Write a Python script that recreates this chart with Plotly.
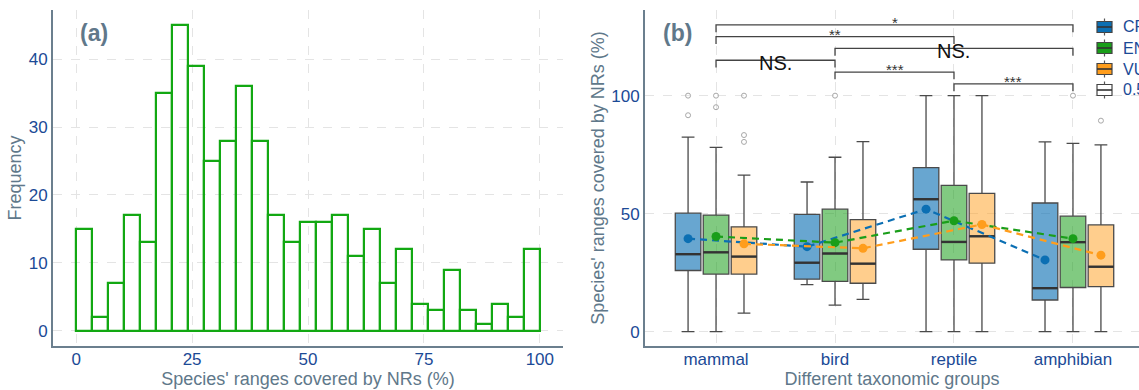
import numpy as np
import plotly.graph_objects as go

# ---------------- data: panel (a) ----------------
hist_counts = [15, 2, 7, 17, 13, 35, 45, 39, 25, 28, 36, 28, 17, 13, 16,
               16, 17, 11, 15, 7, 12, 4, 3, 9, 3, 1, 4, 2, 12]
hist_start, hist_end = 0, 100
a_xticks = [0, 25, 50, 75, 100]
a_yticks = [0, 10, 20, 30, 40]

# ---------------- data: panel (b) ----------------
groups = ["mammal", "bird", "reptile", "amphibian"]
levels = ["CR", "EN", "VU"]
q1 = {"CR": [25.9, 22.2, 34.9, 13.4], "EN": [24.4, 21.3, 30.4, 18.7], "VU": [24.4, 20.5, 29.0, 19.1]}
median = {"CR": [32.8, 29.2, 56.1, 18.4], "EN": [33.6, 33.1, 38.0, 37.9], "VU": [31.8, 28.8, 40.4, 27.5]}
q3 = {"CR": [50.2, 49.7, 69.5, 54.5], "EN": [49.4, 51.9, 62.0, 48.9], "VU": [44.4, 47.5, 58.6, 45.2]}
lower = {"CR": [0, 19.9, 0, 0], "EN": [0, 11.2, 0, 0], "VU": [7.8, 13.7, 0, 0]}
upper = {"CR": [82.4, 63.4, 100, 80.4], "EN": [78.1, 73.9, 100, 79.8], "VU": [66.3, 80.5, 100, 79.1]}
means = {"CR": [39.4, 36.0, 51.9, 30.4], "EN": [40.3, 37.7, 47.0, 39.4], "VU": [37.2, 35.3, 45.4, 32.4]}
outliers = {
    "CR": {"mammal": [100, 91.7]},
    "EN": {"mammal": [100, 95.1], "bird": [100], "amphibian": [100]},
    "VU": {"mammal": [100, 83.3, 80.4], "amphibian": [89.4]},
}
comparisons = [("mammal", "amphibian", "*", 130), ("mammal", "reptile", "**", 125),
               ("bird", "amphibian", "NS.", 120), ("mammal", "bird", "NS.", 115),
               ("bird", "reptile", "***", 110), ("reptile", "amphibian", "***", 105)]
b_yticks = [0, 50, 100]
legend_labels = ["CR", "EN", "VU", "0.5"]

# ---------------- styles ----------------
W, H = 1139, 390
dark = {"CR": "#0b6fb3", "EN": "#1a9e1a", "VU": "#ff9d1c"}
light = {"CR": "rgba(11,111,179,0.62)", "EN": "rgba(26,158,26,0.55)", "VU": "rgba(255,157,28,0.5)"}
TICKC = "#1b4a96"
TITLEC = "#60788a"
AXC = "#6b7f8e"
GRIDC = "#e4e4e4"
FONT = "Liberation Sans, Arial, sans-serif"
dodge = 0.235
boxw = 0.215

fig = go.Figure()

# panel (a) histogram
nb = len(hist_counts)
bw = (hist_end - hist_start) / nb
centers = [hist_start + bw * (i + 0.5) for i in range(nb)]
fig.add_trace(go.Bar(x=centers, y=hist_counts, width=bw, marker=dict(color="rgba(255,255,255,0)",
                     line=dict(color="#12a812", width=2.2)), xaxis="x", yaxis="y", showlegend=False))

# panel (b) boxes
gidx = {g: i + 1 for i, g in enumerate(groups)}
for k, lev in enumerate(levels):
    off = (k - 1) * dodge
    pos = [gidx[g] + off for g in groups]
    fig.add_trace(go.Box(x=pos, q1=q1[lev], median=median[lev], q3=q3[lev],
                         lowerfence=lower[lev], upperfence=upper[lev], width=boxw,
                         fillcolor=light[lev], line=dict(color="#4a4a4a", width=1.3),
                         boxpoints=False, xaxis="x2", yaxis="y2", showlegend=False, name=lev))
    # median (thicker, dark)
    mx, my = [], []
    for p, m in zip(pos, median[lev]):
        mx += [p - boxw / 2, p + boxw / 2, None]
        my += [m, m, None]
    fig.add_trace(go.Scatter(x=mx, y=my, mode="lines", line=dict(color="#333333", width=2.4),
                             xaxis="x2", yaxis="y2", showlegend=False, hoverinfo="skip"))
    # outliers
    ox, oy = [], []
    for g, vals in outliers[lev].items():
        for v in vals:
            ox.append(gidx[g] + off)
            oy.append(v)
    fig.add_trace(go.Scatter(x=ox, y=oy, mode="markers",
                             marker=dict(symbol="circle-open", size=5, color="#a8a8a8", line=dict(width=1)),
                             xaxis="x2", yaxis="y2", showlegend=False))

# mean lines and points
for k, lev in enumerate(levels):
    off = (k - 1) * dodge
    pos = [gidx[g] + off for g in groups]
    fig.add_trace(go.Scatter(x=pos, y=means[lev], mode="lines",
                             line=dict(color=dark[lev], width=2.2, dash="7px,5px"),
                             xaxis="x2", yaxis="y2", showlegend=False))
    fig.add_trace(go.Scatter(x=pos, y=means[lev], mode="markers",
                             marker=dict(color=dark[lev], size=9),
                             xaxis="x2", yaxis="y2", showlegend=False))

# significance brackets
tick_len = 3.1
for g1, g2, lab, yv in comparisons:
    x1, x2 = gidx[g1], gidx[g2]
    fig.add_trace(go.Scatter(x=[x1, x1, x2, x2], y=[yv - tick_len, yv, yv, yv - tick_len], mode="lines",
                             line=dict(color="#444444", width=1.3), xaxis="x2", yaxis="y2",
                             showlegend=False, hoverinfo="skip"))
    if lab.startswith("NS"):
        fig.add_annotation(x=(x1 + x2) / 2, y=yv, xref="x2", yref="y2", text=lab, showarrow=False,
                           yanchor="middle", yshift=-3, font=dict(size=20, color="#111111", family=FONT))
    else:
        fig.add_annotation(x=(x1 + x2) / 2, y=yv, xref="x2", yref="y2", text=lab, showarrow=False,
                           yanchor="bottom", yshift=-8, font=dict(size=15, color="#333333", family=FONT))

# ---------------- layout ----------------
def px(x):
    return x / W

def py(y):
    return (H - y) / H

ydom = [py(346), py(10)]
fig.update_layout(
    width=W, height=H, margin=dict(l=0, r=0, t=0, b=0),
    paper_bgcolor="white", plot_bgcolor="white", bargap=0,
    font=dict(family=FONT),
    xaxis=dict(domain=[px(53), px(563)], range=[-5, 105], tickvals=a_xticks, anchor="y",
               showline=True, linecolor=AXC, linewidth=2, showgrid=True, gridcolor=GRIDC,
               griddash="dash", gridwidth=1, zeroline=False, ticks="", ticklabelstandoff=-3,
               tickfont=dict(size=17, color=TICKC),
               title=dict(text="Species' ranges covered by NRs (%)", font=dict(size=18, color=TITLEC), standoff=0)),
    yaxis=dict(domain=ydom, range=[-2.25, 47.25], tickvals=a_yticks, anchor="x",
               showline=True, linecolor=AXC, linewidth=2, showgrid=True, gridcolor=GRIDC,
               griddash="dash", zeroline=False, ticks="",
               tickfont=dict(size=17, color=TICKC),
               title=dict(text="Frequency", font=dict(size=18, color=TITLEC), standoff=2)),
    xaxis2=dict(domain=[px(645), 1.0], range=[0.403, 4.555], tickvals=[1, 2, 3, 4], ticktext=groups,
                anchor="y2", showline=True, linecolor=AXC, linewidth=2, showgrid=True, gridcolor=GRIDC,
                griddash="dash", zeroline=False, ticks="", ticklabelstandoff=-3,
                tickfont=dict(size=17, color=TICKC),
                title=dict(text="Different taxonomic groups", font=dict(size=18, color=TITLEC), standoff=0)),
    yaxis2=dict(domain=ydom, range=[-6.1, 136.3], tickvals=b_yticks, anchor="x2",
                showline=True, linecolor=AXC, linewidth=2, showgrid=True, gridcolor=GRIDC,
                griddash="dash", zeroline=False, ticks="",
                tickfont=dict(size=17, color=TICKC),
                title=dict(text="Species' ranges covered by NRs (%)", font=dict(size=18, color=TITLEC), standoff=2)),
)

# panel tags
fig.add_annotation(x=px(78), y=py(33), xref="paper", yref="paper", text="<b>(a)</b>", showarrow=False,
                   xanchor="left", yanchor="middle", font=dict(size=23, color=TITLEC, family=FONT))
fig.add_annotation(x=px(661), y=py(33), xref="paper", yref="paper", text="<b>(b)</b>", showarrow=False,
                   xanchor="left", yanchor="middle", font=dict(size=23, color=TITLEC, family=FONT))

# manual legend (cut by the right edge like the original)
leg_fill = [dark["CR"], dark["EN"], dark["VU"], "white"]
for i, lab in enumerate(legend_labels):
    cy = 27 + i * 21
    x0, x1 = 1097, 1112
    xc = (x0 + x1) / 2
    fig.add_shape(type="rect", xref="paper", yref="paper", x0=px(x0), x1=px(x1), y0=py(cy + 5.5), y1=py(cy - 5.5),
                  fillcolor=leg_fill[i], line=dict(color="#444444", width=1.2))
    fig.add_shape(type="line", xref="paper", yref="paper", x0=px(x0), x1=px(x1), y0=py(cy), y1=py(cy),
                  line=dict(color="#333333", width=1.6))
    fig.add_shape(type="line", xref="paper", yref="paper", x0=px(xc), x1=px(xc), y0=py(cy - 5.5), y1=py(cy - 8.5),
                  line=dict(color="#555555", width=1.2))
    fig.add_shape(type="line", xref="paper", yref="paper", x0=px(xc), x1=px(xc), y0=py(cy + 5.5), y1=py(cy + 8.5),
                  line=dict(color="#555555", width=1.2))
    fig.add_annotation(x=px(1121), y=py(cy), xref="paper", yref="paper", text=lab, showarrow=False,
                       xanchor="left", yanchor="middle", font=dict(size=16, color=TICKC, family=FONT))

fig.write_html("out.html", config={"displayModeBar": False},
               post_script="document.body.style.margin='0';document.body.style.overflow='hidden';")
